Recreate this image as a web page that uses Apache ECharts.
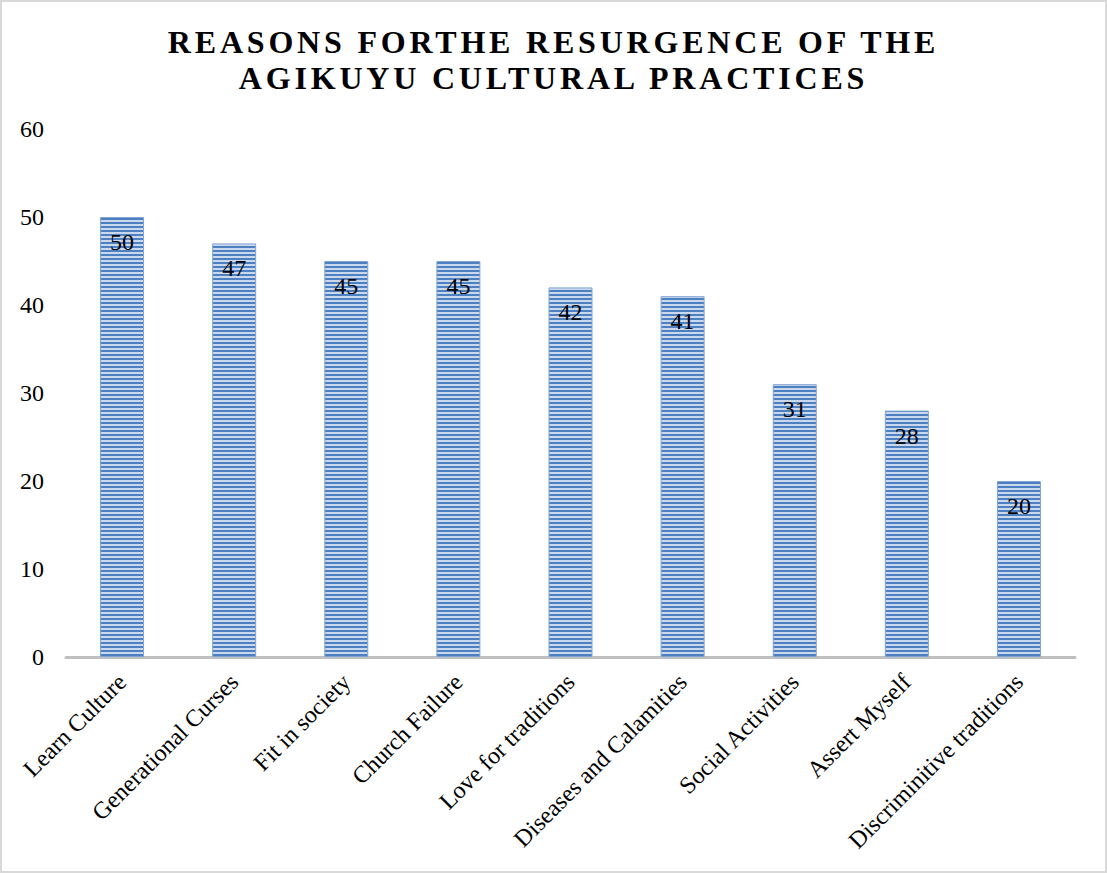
<!DOCTYPE html>
<html>
<head>
<meta charset="utf-8">
<script src="https://cdn.jsdelivr.net/npm/echarts@6/dist/echarts.min.js"></script>
<style>
html, body { margin: 0; padding: 0; background: #fff; }
#main { width: 1107px; height: 873px; box-sizing: border-box; border: 2px solid #d9d9d9; }
#main svg text[data-title] { letter-spacing: 3.8px; }
</style>
</head>
<body>
<div id="main"></div>
<script>
var categories = ['Learn Culture', 'Generational Curses', 'Fit in society', 'Church Failure',
  'Love for traditions', 'Diseases and Calamities', 'Social Activities', 'Assert Myself',
  'Discriminitive traditions'];
var values = [50, 47, 45, 45, 42, 41, 31, 28, 20];
var yTicks = [0, 10, 20, 30, 40, 50, 60];

// striped fill like the original
var pc = document.createElement('canvas');
pc.width = 4; pc.height = 4;
var pctx = pc.getContext('2d');
pctx.fillStyle = '#cad8ee';
pctx.fillRect(0, 0, 4, 4);
pctx.fillStyle = '#4d80c1';
pctx.fillRect(0, 0, 4, 2);
var stripe = { image: pc.toDataURL(), repeat: 'repeat' };

var font = '"Liberation Serif", "Times New Roman", serif';
var myChart = echarts.init(document.getElementById('main'), null, { renderer: 'svg' });

var option = {
  backgroundColor: '#fff',
  animation: false,
  title: {
    text: 'REASONS FORTHE RESURGENCE OF THE\nAGIKUYU CULTURAL PRACTICES',
    left: 'center',
    top: 17,
    textStyle: {
      fontFamily: font,
      fontWeight: 'bold',
      fontSize: 32,
      lineHeight: 36,
      color: '#000'
    }
  },
  grid: { left: 64, right: 30, top: 127, bottom: 214 },
  xAxis: {
    type: 'category',
    data: categories,
    axisLine: { lineStyle: { color: '#bfbfbf', width: 3 } },
    axisTick: { show: false },
    axisLabel: {
      rotate: 45,
      interval: 0,
      margin: 21,
      fontFamily: font,
      fontSize: 24,
      color: '#000'
    }
  },
  yAxis: {
    type: 'value',
    min: yTicks[0],
    max: yTicks[yTicks.length - 1],
    interval: 10,
    axisLine: { show: false },
    axisTick: { show: false },
    splitLine: { show: false },
    axisLabel: {
      margin: 22,
      fontFamily: font,
      fontSize: 24,
      color: '#000'
    }
  },
  series: [{
    type: 'bar',
    data: values,
    barWidth: 44,
    itemStyle: {
      color: stripe,
      borderColor: '#7fa3d3',
      borderWidth: 1
    },
    label: {
      show: true,
      position: 'insideTop',
      distance: 13,
      fontFamily: font,
      fontSize: 24,
      color: '#000'
    }
  }]
};
myChart.setOption(option);

// widen letter spacing of the title like the original
var texts = document.querySelectorAll('#main svg text');
texts.forEach(function (t) {
  if (/REASONS|AGIKUYU/.test(t.textContent)) {
    t.setAttribute('data-title', '1');
  }
});
</script>
</body>
</html>
